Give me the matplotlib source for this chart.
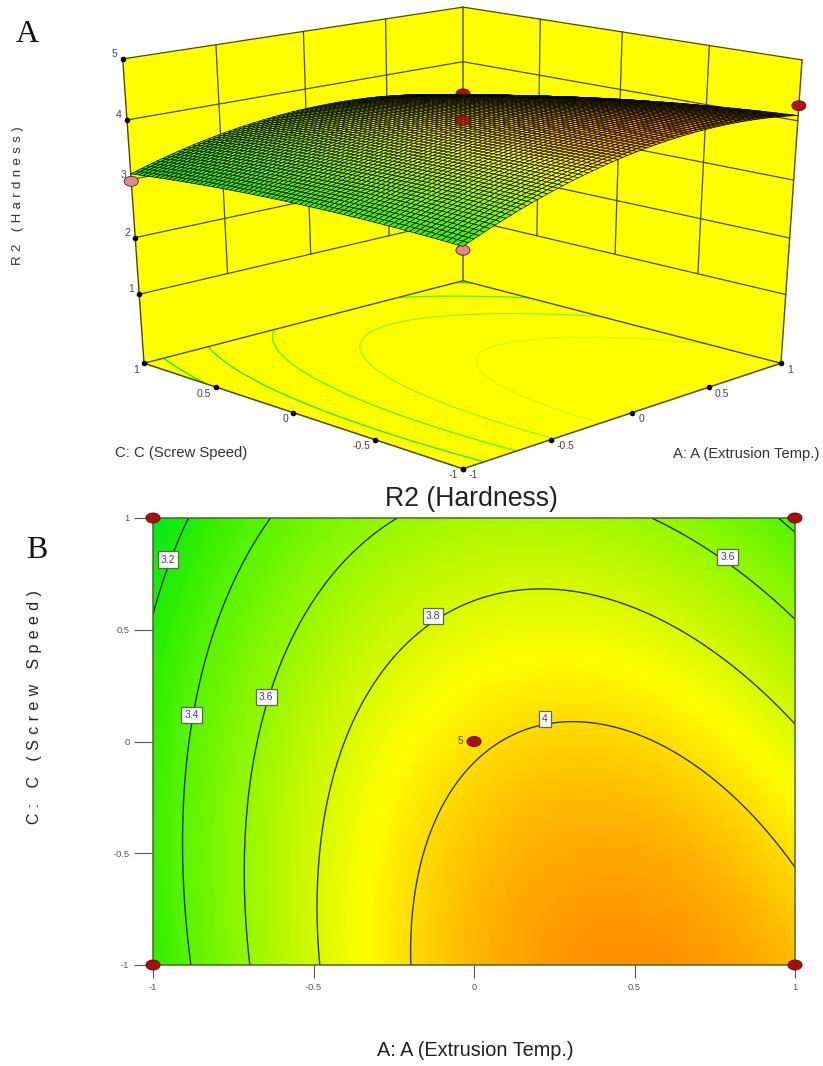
import numpy as np
import matplotlib
matplotlib.use("Agg")
import matplotlib.pyplot as plt
from matplotlib.collections import PolyCollection
from matplotlib.colors import LinearSegmentedColormap, Normalize
from matplotlib.patches import Ellipse, Polygon

plt.rcParams["font.family"] = ["Liberation Sans", "DejaVu Sans"]

# values -------------------------------------------------------
a_levels = [-1, -0.5, 0, 0.5, 1]
c_levels = [-1, -0.5, 0, 0.5, 1]
# hardness on the coded grid, one row per C level
hardness = [
    [3.256, 3.784, 4.098, 4.200, 4.088],
    [3.293, 3.786, 4.065, 4.131, 3.984],
    [3.279, 3.736, 3.980, 4.011, 3.829],
    [3.213, 3.635, 3.844, 3.839, 3.622],
    [3.096, 3.483, 3.656, 3.617, 3.364],
]
contour_levels = [3.2, 3.4, 3.6, 3.8, 4.0]

# design points shown on both panels
design_a = [-1, -1, 1, 1, 0]
design_c = [1, -1, -1, 1, 0]
design_z = [2.97, 3.2, 4.25, 3.4, 4.0]

# contour label positions on panel B
label_text = ["3.2", "3.4", "3.6", "3.8", "4", "3.6"]
label_a = [-0.953, -0.88, -0.647, -0.128, 0.22, 0.79]
label_c = [0.814, 0.12, 0.2, 0.56, 0.10, 0.827]

axis_ticks = [-1, -0.5, 0, 0.5, 1]
axis_tick_labels = ["-1", "-0.5", "0", "0.5", "1"]
z_ticks = [1, 2, 3, 4, 5]
z_floor = -0.25
z_top = 5

# colours running from low to high hardness
cmap = LinearSegmentedColormap.from_list("hardness", [
    (0.00, "#00e820"),
    (0.15, "#30f000"),
    (0.28, "#5cf400"),
    (0.46, "#96f800"),
    (0.64, "#d8fa00"),
    (0.74, "#ffff00"),
    (1.00, "#ff9000"),
])
norm = Normalize(3.09, 4.2)

# box corners on the page (A, C, z) -> pixel, used to fit the camera
corner_xyz = [
    (-1, -1, z_floor), (-1, 1, z_floor), (1, -1, z_floor), (1, 1, z_floor),
    (-1, 1, z_top), (1, -1, z_top), (1, 1, z_top),
]
corner_px = [
    (463, 469), (144, 363), (781, 363), (463, 281),
    (122.7, 59), (802, 60), (463, 7),
]


# fits a projective camera to the box corners
def fit_camera(xyz, px):
    rows = []
    for (a, c, z), (u, v) in zip(xyz, px):
        u, v = u / 800, v / 800
        rows.append([a, c, z, 1, 0, 0, 0, 0, -u * a, -u * c, -u * z, -u])
        rows.append([0, 0, 0, 0, a, c, z, 1, -v * a, -v * c, -v * z, -v])
    m = np.linalg.svd(np.array(rows, dtype=float))[2][-1].reshape(3, 4)
    m[:2] *= 800
    return m


camera = fit_camera(corner_xyz, corner_px)


# projects box coordinates to page pixels
def project(a, c, z):
    a, c, z = np.broadcast_arrays(a, c, z)
    p = camera @ np.stack([a, c, z, np.ones_like(a, dtype=float)]).reshape(4, -1)
    return (p[0] / p[2]).reshape(a.shape), (p[1] / p[2]).reshape(a.shape)


# response surface through the table, like the model in the original plot
def response_surface(a, c):
    ga, gc = np.meshgrid(a_levels, c_levels)
    ga, gc = ga.ravel(), gc.ravel()
    terms = np.column_stack([np.ones_like(ga), ga, gc, ga**2, gc**2, ga * gc])
    b = np.linalg.lstsq(terms, np.array(hardness).ravel(), rcond=None)[0]
    return b[0] + b[1] * a + b[2] * c + b[3] * a**2 + b[4] * c**2 + b[5] * a * c


def line3d(ax, a, c, z, **kw):
    u, v = project(np.array(a, dtype=float), np.array(c, dtype=float), np.array(z, dtype=float))
    ax.plot(u, v, **kw)


fig = plt.figure(figsize=(8.23, 10.66), dpi=100)
page = fig.add_axes([0, 0, 1, 1])
page.set_xlim(0, 823)
page.set_ylim(1066, 0)
page.axis("off")
ax = fig.add_axes([153 / 823, 1 - 965 / 1066, 642 / 823, 447 / 1066])

# panel B ------------------------------------------------------
fine = np.linspace(-1, 1, 201)
fa, fc = np.meshgrid(fine, fine)
fz = response_surface(fa, fc)
ax.imshow(fz, extent=(-1, 1, -1, 1), origin="lower", aspect="auto", cmap=cmap, norm=norm)
cs = ax.contour(fa, fc, fz, levels=contour_levels, colors="#0c1a08", linewidths=1.0, alpha=0.85)
for t, a, c in zip(label_text, label_a, label_c):
    ax.text(a, c, t, fontsize=7.5, color="#4a3a78", ha="center", va="center",
            bbox=dict(boxstyle="square,pad=0.3", fc="white", ec="#5a6a50", lw=0.9))
for a, c in zip(design_a, design_c):
    ax.add_patch(Ellipse((a, c), 0.044, 0.045, fc="#a80f0f", ec="#5a0505", lw=0.6,
                         clip_on=False, zorder=6))
ax.text(-0.035, 0, "5", fontsize=7, color="#444444", ha="right", va="center")
ax.set_xlim(-1, 1)
ax.set_ylim(-1, 1)
ax.set_xticks(axis_ticks, axis_tick_labels)
ax.set_yticks(axis_ticks, axis_tick_labels)
ax.tick_params(axis="x", length=9.4, width=0.8, color="#555555", labelsize=6.7, pad=3.5, labelcolor="#555555")
ax.tick_params(axis="y", length=13.5, width=0.8, color="#555555", labelsize=6.7, pad=3.5, labelcolor="#555555")
for s in ax.spines.values():
    s.set_color("#4a6a20")
    s.set_linewidth(1.1)

# panel A: walls and floor -------------------------------------
wall_color = "#ffff00"
edge_color = "#4f4a00"
for a, c, z in [
    ([-1, 1, 1, -1], [1, 1, 1, 1], [z_floor, z_floor, z_top, z_top]),
    ([1, 1, 1, 1], [1, -1, -1, 1], [z_floor, z_floor, z_top, z_top]),
    ([-1, 1, 1, -1], [-1, -1, 1, 1], [z_floor] * 4),
]:
    u, v = project(np.array(a, dtype=float), np.array(c, dtype=float), np.array(z, dtype=float))
    page.add_patch(Polygon(np.column_stack([u, v]), fc=wall_color, ec="none", zorder=1))

for z in z_ticks:
    line3d(page, [-1, 1, 1], [1, 1, -1], [z, z, z], color=edge_color, lw=0.9, zorder=2)
for t in axis_ticks[1:-1]:
    line3d(page, [t, t], [1, 1], [1, z_top], color=edge_color, lw=0.9, zorder=2)
    line3d(page, [1, 1], [t, t], [1, z_top], color=edge_color, lw=0.9, zorder=2)
line3d(page, [-1, -1], [1, 1], [z_floor, z_top], color=edge_color, lw=1.0, zorder=2)
line3d(page, [1, 1], [1, 1], [z_floor, z_top], color=edge_color, lw=1.0, zorder=2)
line3d(page, [1, 1], [-1, -1], [z_floor, z_top], color=edge_color, lw=1.0, zorder=2)
line3d(page, [-1, 1, 1], [1, 1, -1], [z_floor] * 3, color=edge_color, lw=1.0, zorder=3)
line3d(page, [-1, -1, 1], [1, -1, -1], [z_floor] * 3, color=edge_color, lw=1.1, zorder=3)

# contours on the floor, paler than the colours of panel B
for level, segs in zip(contour_levels, cs.allsegs):
    for seg in segs:
        u, v = project(seg[:, 0], seg[:, 1], z_floor)
        page.plot(u, v, color=cmap(norm(level - 0.22)), lw=0.9, zorder=2.5)

# tick dots and labels
for t, s in zip(axis_ticks, axis_tick_labels):
    u, v = project(-1.0, t, z_floor)
    page.plot(u, v, "o", color="k", ms=3, zorder=4)
    page.text(u - 5, v + 6.5, s, fontsize=7.5, color="#444444", ha="right", va="center")
    u, v = project(t, -1.0, z_floor)
    page.plot(u, v, "o", color="k", ms=3, zorder=4)
    page.text(u + 6, v + 6.5, s, fontsize=7.5, color="#444444", ha="left", va="center")
for z in z_ticks:
    u, v = project(-1.0, 1.0, float(z))
    page.plot(u, v, "o", color="k", ms=3, zorder=4)
    page.text(u - 5, v - 5, str(z), fontsize=7.5, color="#444455", ha="right", va="center")


# design point on panel A
def dot(i, color, zorder, alpha=1.0):
    u, v = project(float(design_a[i]), float(design_c[i]), design_z[i])
    page.add_patch(Ellipse((u, v), 14, 10, fc=color, ec="#5a1010", lw=0.6, zorder=zorder, alpha=alpha))


dot(0, "#e08c96", 4.5)
dot(1, "#e08c96", 4.5)
dot(3, "#a80f0f", 4.5)

# surface mesh, painted from the back corner to the front
n = 71
ga = np.linspace(-1, 1, n)
ma, mc = np.meshgrid(ga, ga)
mz = response_surface(ma, mc)
mu, mv = project(ma, mc, mz)
verts = np.stack([
    np.stack([mu[:-1, :-1], mv[:-1, :-1]], -1), np.stack([mu[:-1, 1:], mv[:-1, 1:]], -1),
    np.stack([mu[1:, 1:], mv[1:, 1:]], -1), np.stack([mu[1:, :-1], mv[1:, :-1]], -1),
], 2).reshape(-1, 4, 2)
cell_z = ((mz[:-1, :-1] + mz[1:, 1:] + mz[:-1, 1:] + mz[1:, :-1]) / 4).ravel()
depth = (ma[:-1, :-1] + mc[:-1, :-1]).ravel()
order = np.argsort(-depth)
page.add_collection(PolyCollection(verts[order], facecolors=cmap(norm(cell_z[order])),
                                   edgecolors="k", linewidths=0.45, zorder=5))

dot(2, "#b80f0f", 6)
dot(4, "#a80f0f", 6, alpha=0.75)

# text ---------------------------------------------------------
gap = "\u2004"
page.text(27, 34, "A", family="Liberation Serif", fontsize=23, ha="center", va="center", color="#111111")
page.text(37, 551, "B", family="Liberation Serif", fontsize=23, ha="center", va="center", color="#111111")
page.text(181, 453, "C: C (Screw Speed)", fontsize=10.7, ha="center", va="center", color="#333333")
page.text(746, 454, "A: A (Extrusion Temp.)", fontsize=10.6, ha="center", va="center", color="#333333")
page.text(471.5, 499, "R2 (Hardness)", fontsize=19.2, ha="center", va="center", color="#222222")
page.text(475, 1051, "A: A (Extrusion Temp.)", fontsize=14.3, ha="center", va="center", color="#222222")
page.text(18, 196, gap.join("R2 (Hardness)"), fontsize=9.5, rotation=90, ha="center", va="center", color="#333333")
page.text(35, 707, gap.join("C: C (Screw Speed)"), fontsize=11.5, rotation=90, ha="center", va="center", color="#222222")

fig.savefig("out.png", dpi=100)
